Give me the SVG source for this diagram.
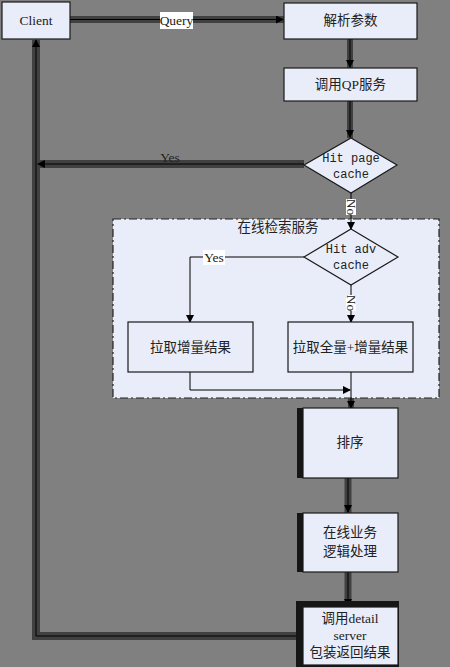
<svg xmlns="http://www.w3.org/2000/svg" width="450" height="667" viewBox="0 0 450 667">
<defs>
<marker id="ah" markerWidth="8" markerHeight="8" refX="7" refY="4" orient="auto" markerUnits="userSpaceOnUse">
<path d="M0,0 L8,4 L0,8 z" fill="#000"/>
</marker>
<style>
.node{fill:#e9edf9;stroke:#1a1a1a;stroke-width:1.2}
.band{stroke:#404040;fill:none}
.ln{stroke:#000;stroke-width:1;fill:none}
.t{font-family:"Liberation Serif","Noto Sans CJK SC",serif;font-size:13.5px;fill:#222;text-anchor:middle}
.m{font-family:"Liberation Mono","Noto Sans CJK SC",monospace;font-size:12px;fill:#222;text-anchor:middle}
.bar{fill:#161616}
</style>
</defs>
<rect width="450" height="667" fill="#808080"/>

<g id="online-search">
<rect x="113" y="219" width="326" height="179" fill="#e9edf9" stroke="#222" stroke-width="1.2" stroke-dasharray="8,3,2,3"/>
<text class="t" x="278" y="232">在线检索服务</text>
</g>

<g id="connectors">
<path class="band" stroke-width="7" d="M70,19.5 H284"/>
<path class="ln" d="M70,19.5 H283" marker-end="url(#ah)"/>
<rect x="160" y="12" width="33" height="17" fill="#fff"/>
<text class="t" x="176.5" y="25">Query</text>
<path class="band" stroke-width="6" d="M350,39 V68"/>
<path class="ln" d="M350,39 V67" marker-end="url(#ah)"/>
<path class="band" stroke-width="6" d="M350,101 V138"/>
<path class="ln" d="M350,101 V137" marker-end="url(#ah)"/>
<path class="band" stroke-width="8" d="M304,164 H36"/>
<path class="band" stroke-width="8" d="M36,40 V636 H297"/>
<path class="ln" d="M304,164 H38" marker-end="url(#ah)"/>
<path class="ln" d="M297,636 H36 V40" marker-end="url(#ah)"/>
<text class="t" x="170" y="162">Yes</text>
<path class="ln" d="M351,193 V229" marker-end="url(#ah)"/>
<rect x="346" y="199" width="10" height="16" fill="#fff"/>
<text class="t" x="0" y="0" transform="translate(347,207) rotate(90)">No</text>
<path class="ln" d="M304,257 H190 V322" marker-end="url(#ah)"/>
<rect x="203" y="250" width="22" height="15" fill="#fff"/>
<text class="t" x="214" y="262">Yes</text>
<path class="ln" d="M351,285 V322" marker-end="url(#ah)"/>
<rect x="346" y="295" width="10" height="16" fill="#fff"/>
<text class="t" x="0" y="0" transform="translate(347,303) rotate(90)">No</text>
<path class="ln" d="M190,372 V390 H350" marker-end="url(#ah)"/>
<path class="band" stroke-width="6" d="M351,398 V408"/>
<path class="ln" d="M351,372 V408" marker-end="url(#ah)"/>
<path class="band" stroke-width="7" d="M348,478 V513"/>
<path class="ln" d="M348,478 V512" marker-end="url(#ah)"/>
<path class="band" stroke-width="7" d="M348,572 V607"/>
<path class="ln" d="M348,572 V606" marker-end="url(#ah)"/>
</g>

<g id="client">
<rect class="node" x="2" y="2" width="68" height="37"/>
<text class="t" x="36" y="25">Client</text>
</g>

<g id="parse">
<rect class="node" x="284" y="3" width="133" height="36"/>
<text class="t" x="350.5" y="25">解析参数</text>
</g>

<g id="qp">
<rect class="node" x="284" y="68" width="133" height="33"/>
<text class="t" x="350.5" y="89">调用QP服务</text>
</g>

<g id="hit-page">
<path class="node" d="M351,138 L397,165 L351,193 L304,165 z"/>
<text class="m" x="351" y="162">Hit page</text>
<text class="m" x="351" y="178">cache</text>
</g>

<g id="hit-adv">
<path class="node" d="M351,229 L398,257 L351,285 L304,257 z"/>
<text class="m" x="351" y="253">Hit adv</text>
<text class="m" x="351" y="269">cache</text>
</g>

<g id="pull-inc">
<rect class="node" x="128" y="322" width="125" height="50"/>
<text class="t" x="190.5" y="352">拉取增量结果</text>
</g>

<g id="pull-all">
<rect class="node" x="288" y="322" width="125" height="50"/>
<text class="t" x="350.5" y="352">拉取全量+增量结果</text>
</g>

<g id="sort">
<rect class="bar" x="297" y="408" width="7" height="70"/>
<rect class="node" x="303" y="408" width="95" height="70"/>
<text class="t" x="350" y="447">排序</text>
</g>

<g id="biz">
<rect class="bar" x="297" y="513" width="7" height="59"/>
<rect class="node" x="303" y="513" width="95" height="59"/>
<text class="t" x="350" y="537">在线业务</text>
<text class="t" x="350" y="556">逻辑处理</text>
</g>

<g id="detail">
<rect class="bar" x="296" y="601" width="103" height="66"/>
<rect class="node" x="303" y="607" width="95" height="58"/>
<text class="t" x="350" y="623">调用detail</text>
<text class="t" x="350" y="640">server</text>
<text class="t" x="350" y="657">包装返回结果</text>
</g>
</svg>
